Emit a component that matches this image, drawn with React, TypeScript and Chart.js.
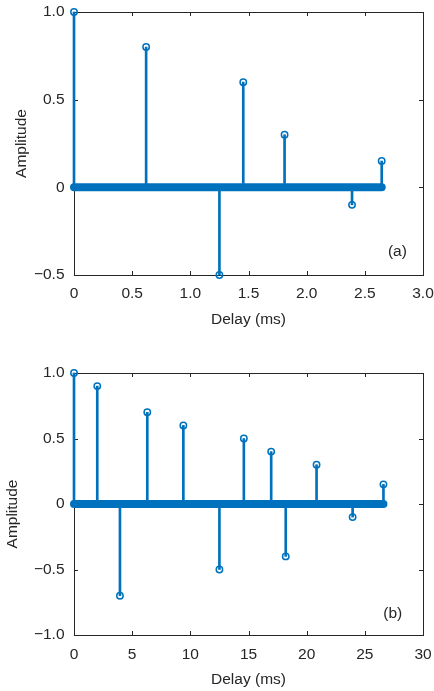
import React, { useEffect, useRef } from 'react';
import { Chart, registerables } from 'chart.js';

Chart.register(...registerables);

// ---- Panel (a) ----
const delaysA = [0, 0.62, 1.25, 1.455, 1.81, 2.39, 2.645];
const ampsA = [1.0, 0.8, -0.5, 0.6, 0.3, -0.1, 0.15];
const zeroSpanA = [0, 2.645];
const xTicksA = [0, 0.5, 1.0, 1.5, 2.0, 2.5, 3.0];
const yTicksA = [-0.5, 0, 0.5, 1.0];

// ---- Panel (b) ----
const delaysB = [0, 2.0, 3.95, 6.3, 9.4, 12.5, 14.6, 16.95, 18.2, 20.85, 23.95, 26.6];
const ampsB = [1.0, 0.9, -0.7, 0.7, 0.6, -0.5, 0.5, 0.4, -0.4, 0.3, -0.1, 0.15];
const zeroSpanB = [0, 26.6];
const xTicksB = [0, 5, 10, 15, 20, 25, 30];
const yTicksB = [-1.0, -0.5, 0, 0.5, 1.0];

const FONT = 'Arial, "Liberation Sans", Helvetica, sans-serif';
const TEXT = '#262626';
const BLUE = '#0072BD';
const FSIZE = 15.5;

function fmt(v: number, dec: number): string {
  if (v === 0) return '0';
  const s = Math.abs(v).toFixed(dec);
  return v < 0 ? '\u2212' + s : s;
}

const framePlugin = {
  id: 'stemFrame',
  beforeDatasetsDraw(chart: any) {
    const { ctx, chartArea, scales } = chart;
    const { left, right, top, bottom } = chartArea;
    const x = scales.x;
    const y = scales.y;
    ctx.save();
    ctx.strokeStyle = TEXT;
    ctx.lineWidth = 1;
    ctx.strokeRect(left + 0.5, top + 0.5, right - left, bottom - top);
    const tl = 4;
    ctx.beginPath();
    x.ticks.forEach((t: any) => {
      const p = Math.round(x.getPixelForValue(t.value)) + 0.5;
      ctx.moveTo(p, bottom);
      ctx.lineTo(p, bottom - tl);
      ctx.moveTo(p, top);
      ctx.lineTo(p, top + tl);
    });
    y.ticks.forEach((t: any) => {
      const p = Math.round(y.getPixelForValue(t.value)) + 0.5;
      ctx.moveTo(left, p);
      ctx.lineTo(left + tl, p);
      ctx.moveTo(right, p);
      ctx.lineTo(right - tl, p);
    });
    ctx.stroke();
    ctx.restore();
  },
  afterDatasetsDraw(chart: any, _args: any, opts: any) {
    if (!opts) return;
    const { ctx, scales, chartArea } = chart;
    ctx.save();
    ctx.fillStyle = TEXT;
    ctx.font = `${FSIZE}px ${FONT}`;
    ctx.textAlign = 'center';
    ctx.textBaseline = 'middle';
    if (opts.label) {
      ctx.fillText(opts.label, scales.x.getPixelForValue(opts.lx), scales.y.getPixelForValue(opts.ly));
    }
    if (opts.yTitle) {
      const cy = (chartArea.top + chartArea.bottom) / 2 + opts.yTitleDy;
      ctx.translate(opts.yTitleX, cy);
      ctx.rotate(-Math.PI / 2);
      ctx.fillText(opts.yTitle, 0, 0);
    }
    ctx.restore();
  },
};

type Props = {
  width: number;
  height: number;
  delays: number[];
  amps: number[];
  zeroSpan: number[];
  xTicks: number[];
  yTicks: number[];
  xDec: number;
  label: string;
  lx: number;
  ly: number;
  padTop: number;
  padRight: number;
  xAxisH: number;
  xTickPad: number;
  xTitlePad: number;
  yAxisW: number;
  yTitleX: number;
  yTitleDy: number;
};

function StemChart(p: Props) {
  const ref = useRef<HTMLCanvasElement | null>(null);
  useEffect(() => {
    if (!ref.current) return;
    const pts = p.delays.map((d, i) => ({ x: d, y: p.amps[i] }));
    const band = p.zeroSpan.map((d) => ({ x: d, y: 0 }));
    const font = { family: FONT, size: FSIZE };
    const chart = new Chart(ref.current, {
      type: 'bar',
      data: {
        datasets: [
          {
            type: 'scatter',
            data: pts,
            pointRadius: 3.2,
            pointBorderWidth: 1.5,
            pointBorderColor: BLUE,
            pointBackgroundColor: 'rgba(0,0,0,0)',
            showLine: false,
            clip: false,
            order: 0,
          } as any,
          {
            type: 'line',
            data: band,
            borderColor: BLUE,
            borderWidth: 8,
            borderCapStyle: 'round',
            pointRadius: 0,
            fill: false,
            clip: false,
            order: 1,
          } as any,
          {
            type: 'bar',
            data: pts,
            backgroundColor: BLUE,
            barThickness: 2,
            borderWidth: 0,
            clip: false,
            order: 2,
          } as any,
        ],
      },
      options: {
        responsive: false,
        animation: false,
        events: [],
        layout: { padding: { top: p.padTop, right: p.padRight, bottom: 0, left: 0 } },
        plugins: {
          legend: { display: false },
          tooltip: { enabled: false },
          stemFrame: {
            label: p.label,
            lx: p.lx,
            ly: p.ly,
            yTitle: 'Amplitude',
            yTitleX: p.yTitleX,
            yTitleDy: p.yTitleDy,
          },
        } as any,
        scales: {
          x: {
            type: 'linear',
            position: 'bottom',
            min: p.xTicks[0],
            max: p.xTicks[p.xTicks.length - 1],
            offset: false,
            grid: { display: false, drawTicks: false },
            border: { display: false },
            ticks: {
              autoSkip: false,
              maxRotation: 0,
              padding: p.xTickPad,
              color: TEXT,
              font,
              callback: (v: any) => fmt(Number(v), p.xDec),
            },
            afterBuildTicks: (s: any) => {
              s.ticks = p.xTicks.map((v) => ({ value: v }));
            },
            afterFit: (s: any) => {
              s.height = p.xAxisH;
              s.paddingLeft = 0;
              s.paddingRight = 0;
            },
            title: {
              display: true,
              text: 'Delay (ms)',
              color: TEXT,
              font,
              padding: { top: 0, bottom: p.xTitlePad },
            },
          } as any,
          y: {
            type: 'linear',
            min: p.yTicks[0],
            max: p.yTicks[p.yTicks.length - 1],
            grid: { display: false, drawTicks: false },
            border: { display: false },
            ticks: {
              autoSkip: false,
              padding: 9.5,
              color: TEXT,
              font,
              callback: (v: any) => fmt(Number(v), 1),
            },
            afterBuildTicks: (s: any) => {
              s.ticks = p.yTicks.map((v) => ({ value: v }));
            },
            afterFit: (s: any) => {
              s.width = p.yAxisW;
              s.paddingTop = 0;
              s.paddingBottom = 0;
            },
            title: { display: false },
          } as any,
        },
      },
      plugins: [framePlugin as any],
    });
    return () => chart.destroy();
  }, []);
  return <canvas ref={ref} width={p.width} height={p.height} style={{ display: 'block', width: p.width, height: p.height }} />;
}

export default function App() {
  return (
    <div style={{ position: 'absolute', left: 0, top: 0, width: 434, height: 691, background: '#ffffff' }}>
      <StemChart
        width={434}
        height={340}
        delays={delaysA}
        amps={ampsA}
        zeroSpan={zeroSpanA}
        xTicks={xTicksA}
        yTicks={yTicksA}
        xDec={1}
        label="(a)"
        lx={2.78}
        ly={-0.367}
        padTop={12}
        padRight={11}
        xAxisH={65}
        xTickPad={9.4}
        xTitlePad={10.7}
        yAxisW={74}
        yTitleX={22}
        yTitleDy={0}
      />
      <StemChart
        width={434}
        height={351}
        delays={delaysB}
        amps={ampsB}
        zeroSpan={zeroSpanB}
        xTicks={xTicksB}
        yTicks={yTicksB}
        xDec={0}
        label="(b)"
        lx={27.4}
        ly={-0.84}
        padTop={33}
        padRight={11}
        xAxisH={56}
        xTickPad={10.7}
        xTitlePad={1.7}
        yAxisW={74}
        yTitleX={13}
        yTitleDy={10}
      />
    </div>
  );
}
